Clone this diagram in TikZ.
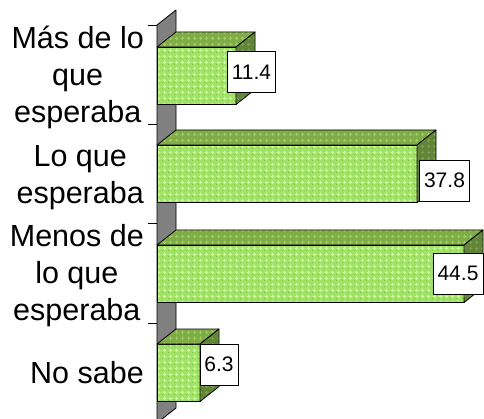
\documentclass[tikz,border=0pt]{standalone}
\usepackage{fontspec}
\setmainfont{Liberation Sans}
\usetikzlibrary{patterns.meta}
\definecolor{barfront}{RGB}{160,226,102}
\definecolor{frontcross}{RGB}{204,250,160}
\definecolor{frontdot}{RGB}{132,196,64}
\definecolor{bartop}{RGB}{128,172,72}
\definecolor{topcross}{RGB}{160,204,104}
\definecolor{barside}{RGB}{96,132,56}
\definecolor{sidecross}{RGB}{122,160,76}
\definecolor{wallgray}{RGB}{128,128,128}
\pgfdeclarepattern{
  name=xcross, type=uncolored,
  bottom left={\pgfpoint{0pt}{0pt}}, top right={\pgfpoint{6pt}{6pt}},
  tile size={\pgfpoint{6pt}{6pt}},
  code={
    \pgfpathrectangle{\pgfpoint{2.5pt}{1pt}}{\pgfpoint{1pt}{4pt}}
    \pgfpathrectangle{\pgfpoint{1pt}{2.5pt}}{\pgfpoint{4pt}{1pt}}
    \pgfusepath{fill}
  }
}
\pgfdeclarepattern{
  name=xdot, type=uncolored,
  bottom left={\pgfpoint{0pt}{0pt}}, top right={\pgfpoint{6pt}{6pt}},
  tile size={\pgfpoint{6pt}{6pt}},
  code={
    \pgfpathrectangle{\pgfpoint{0pt}{0pt}}{\pgfpoint{1pt}{1pt}}
    \pgfusepath{fill}
  }
}
\begin{document}
\begin{tikzpicture}[x=1pt,y=-1pt,
  cat/.style={anchor=east, align=center, font=\fontsize{30.5}{37}\selectfont, inner sep=0pt},
  val/.style={draw=black, fill=white, line width=0.8pt, font=\fontsize{21}{24}\selectfont, inner xsep=4.5pt, inner ysep=0pt, minimum height=41pt},
  face/.style={draw=black, line width=0.8pt, line join=round},
  tick/.style={draw=black, line width=0.8pt}]
\useasboundingbox (0,0) rectangle (484,419);
% wall
\filldraw[face, fill=wallgray] (157,25) -- (176,10) -- (176,408) -- (157,423) -- cycle;
% ticks
\foreach \t in {25,124.3,223.6,322.9} \draw[tick] (148,\t) -- (157,\t);
% bars: top y, end x
\foreach \yt/\xe in {47/236, 145/417, 245/464, 344/200}{
  % front face
  \fill[barfront] (157,\yt) rectangle (\xe,\yt+57.5);
  \fill[pattern=xcross, pattern color=frontcross] (157,\yt) rectangle (\xe,\yt+57.5);
  \fill[pattern=xdot, pattern color=frontdot] (157,\yt) rectangle (\xe,\yt+57.5);
  \draw[face] (157,\yt) rectangle (\xe,\yt+57.5);
  % top face
  \fill[bartop] (157,\yt) -- (176,\yt-15) -- (\xe+19,\yt-15) -- (\xe,\yt) -- cycle;
  \fill[pattern=xcross, pattern color=topcross] (157,\yt) -- (176,\yt-15) -- (\xe+19,\yt-15) -- (\xe,\yt) -- cycle;
  \draw[face] (157,\yt) -- (176,\yt-15) -- (\xe+19,\yt-15) -- (\xe,\yt) -- cycle;
  % side face
  \fill[barside] (\xe,\yt) -- (\xe+19,\yt-15) -- (\xe+19,\yt+42.5) -- (\xe,\yt+57.5) -- cycle;
  \fill[pattern=xcross, pattern color=sidecross] (\xe,\yt) -- (\xe+19,\yt-15) -- (\xe+19,\yt+42.5) -- (\xe,\yt+57.5) -- cycle;
  \draw[face] (\xe,\yt) -- (\xe+19,\yt-15) -- (\xe+19,\yt+42.5) -- (\xe,\yt+57.5) -- cycle;
}
% category labels
\node[cat] (c1) at (144,77.5) {Más de lo\\que\\esperaba};
\node[cat] (c2) at (144,178) {Lo que\\esperaba};
\node[cat] (c3) at (144,275.5) {Menos de\\lo que\\esperaba};
\node[cat] (c4) at (144,372.5) {No sabe};
% value labels
\node[val] (v1) at (251.5,72) {11.4};
\node[val] (v2) at (444.5,180.5) {37.8};
\node[val] (v3) at (458,273.5) {44.5};
\node[val] (v4) at (219,364.5) {6.3};
\end{tikzpicture}
\end{document}
